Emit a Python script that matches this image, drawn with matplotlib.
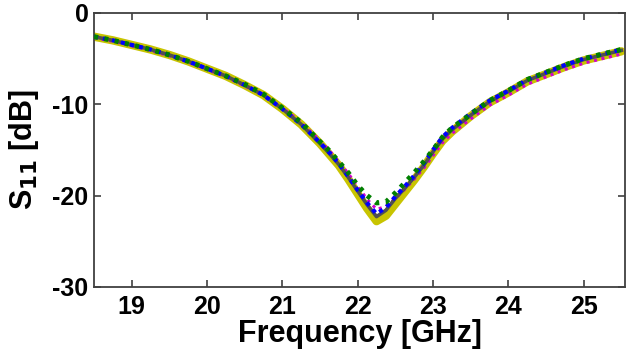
import matplotlib
matplotlib.use("Agg")
import matplotlib.pyplot as plt

freq = [18.5, 18.75, 19.0, 19.25, 19.5, 19.75, 20.0, 20.25, 20.5, 20.75, 21.0, 21.25,
        21.5, 21.625, 21.75, 21.875, 22.0, 22.125, 22.25, 22.375, 22.5, 22.625, 22.75,
        22.875, 23.0, 23.125, 23.25, 23.5, 23.75, 24.0, 24.25, 24.5, 24.75, 25.0, 25.25, 25.5]

s_yellow = [-2.6, -3.0, -3.5, -4.0, -4.6, -5.3, -6.1, -6.9, -7.9, -9.0, -10.5, -12.2,
            -14.3, -15.5, -16.7, -18.2, -19.8, -21.4, -22.8, -22.2, -20.9, -19.6, -18.3,
            -16.9, -15.4, -14.0, -13.0, -11.3, -9.8, -8.7, -7.5, -6.7, -5.9, -5.2, -4.7, -4.2]
s_magenta = [-2.7, -3.1, -3.6, -4.1, -4.7, -5.4, -6.2, -7.0, -8.0, -9.0, -10.4, -12.0,
             -14.0, -15.1, -16.3, -17.6, -19.0, -20.4, -21.5, -21.2, -20.3, -19.3, -18.2,
             -17.0, -15.6, -14.2, -13.2, -11.6, -10.1, -9.0, -7.8, -7.0, -6.2, -5.5, -5.0, -4.5]
s_gray = [-2.6, -3.0, -3.5, -4.0, -4.6, -5.3, -6.1, -6.9, -7.9, -9.0, -10.5, -12.2,
          -14.3, -15.4, -16.6, -18.0, -19.5, -21.0, -22.3, -21.6, -20.3, -19.2, -18.0,
          -16.7, -15.2, -13.8, -12.8, -11.2, -9.7, -8.6, -7.4, -6.6, -5.8, -5.1, -4.6, -4.1]
s_blue = [-2.6, -3.0, -3.5, -4.0, -4.6, -5.3, -6.1, -6.9, -7.9, -9.0, -10.5, -12.2,
          -14.2, -15.3, -16.5, -17.9, -19.4, -20.8, -22.0, -21.3, -20.1, -19.0, -17.8,
          -16.5, -15.0, -13.6, -12.6, -11.0, -9.6, -8.5, -7.3, -6.5, -5.7, -5.0, -4.5, -4.0]
s_green = [-2.6, -3.0, -3.5, -4.0, -4.6, -5.3, -6.1, -6.9, -7.8, -8.9, -10.4, -12.0,
           -14.1, -15.1, -16.3, -17.5, -18.9, -20.0, -20.8, -20.7, -19.7, -18.6, -17.5,
           -16.3, -15.0, -13.6, -12.6, -11.1, -9.6, -8.5, -7.3, -6.5, -5.7, -5.0, -4.5, -4.0]

xticks = [19, 20, 21, 22, 23, 24, 25]
yticks = [0, -10, -20, -30]

plt.rcParams['font.family'] = ['Liberation Sans', 'DejaVu Sans']
plt.rcParams['font.weight'] = 'bold'
plt.rcParams['axes.unicode_minus'] = False

fig = plt.figure(figsize=(6.27, 3.6), dpi=100)
ax = fig.add_axes([0.150, 0.203, 0.847, 0.761])

ax.plot(freq, s_yellow, color='#c8c400', lw=6.0, solid_capstyle='round', zorder=2)
ax.plot(freq, s_magenta, color='#d000d0', lw=2.2, linestyle=(0, (1, 1.5)), zorder=3)
ax.plot(freq, s_gray, color='#505050', lw=2.6, zorder=4)
ax.plot(freq, s_blue, color='#0000ff', lw=3.0, linestyle=(0, (1, 1.2)), zorder=5)
ax.plot(freq, s_green, color='#008000', lw=3.6, linestyle=(0, (0.8, 1.3)), zorder=6)

ax.set_xlim(18.5, 25.55)
ax.set_ylim(-30, 0)
ax.set_xticks(xticks)
ax.set_yticks(yticks)
ax.tick_params(direction='in', length=5, width=1.2, color='#404040',
               top=True, right=True, labelsize=18, pad=6)
ax.tick_params(axis='y', pad=4)
for s in ax.spines.values():
    s.set_color('#404040')
    s.set_linewidth(1.3)

ax.set_xlabel('Frequency [GHz]', fontsize=22, fontweight='bold', labelpad=0)
ax.set_ylabel(r'S$_{\mathbf{11}}$ [dB]', fontsize=22, fontweight='bold', labelpad=8)

fig.savefig('out.png', dpi=100)
